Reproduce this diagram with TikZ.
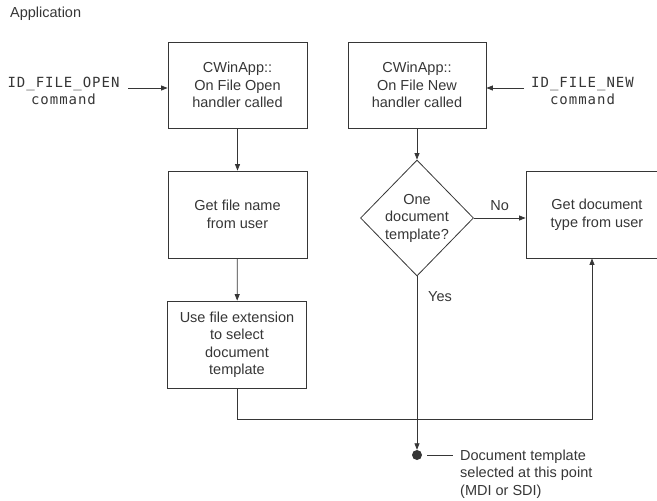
\documentclass[tikz,border=0pt]{standalone}
\usepackage{fontspec}
\setmainfont{Liberation Sans}
\newfontfamily\idfont[LetterSpace=7]{DejaVu Sans Mono}
\usetikzlibrary{arrows.meta,shapes.geometric}
\definecolor{ink}{HTML}{363636}
\begin{document}
\begin{tikzpicture}[x=1pt,y=-1pt,
  line/.style={draw=ink, line width=0.8pt},
  box/.style={line, rectangle, align=center, inner sep=0pt, text=ink,
    font=\fontsize{14.5}{17.5}\selectfont},
  label/.style={inner sep=0pt, text=ink, font=\fontsize{14.5}{17.5}\selectfont},
  cmd/.style={inner sep=0pt, align=center, text=ink, font=\idfont\fontsize{14}{17}\selectfont},
  flow/.style={line, -{Triangle[width=5pt,length=6.5pt]}}]
\useasboundingbox (0,0) rectangle (657,501);

\node[label, anchor=west] (app) at (10,14) {Application};

% left column: File Open path
\node[box, minimum width=139pt, minimum height=86pt] (open) at (237.5,85)
  {CWinApp::\\On File Open\\handler called};
\node[box, minimum width=139pt, minimum height=87pt] (getname) at (237.5,214.5)
  {Get file name\\from user};
\node[box, minimum width=139pt, minimum height=87pt] (ext) at (237,344.5)
  {Use file extension\\to select\\document\\template};

% middle column: File New path
\node[box, minimum width=138pt, minimum height=86pt] (new) at (417,85)
  {CWinApp::\\On File New\\handler called};
\node[line, diamond, inner sep=0pt, minimum width=113pt, minimum height=116pt,
  align=center, text=ink, font=\fontsize{14.5}{17.5}\selectfont] (one) at (417,218)
  {One\\document\\template?};
\node[box, minimum width=142pt, minimum height=87pt] (gettype) at (597,214.5)
  {Get document\\type from user};

% incoming commands
\node[cmd] (idopen) at (63.5,91) {ID\_FILE\_OPEN\\command};
\node[cmd] (idnew) at (582.5,91) {ID\_FILE\_NEW\\command};

% selection point
\node[circle, fill=ink, inner sep=0pt, minimum size=10pt] (dot) at (417,455) {};
\node[label, anchor=west, align=left] (note) at (460,474)
  {Document template\\selected at this point\\(MDI or SDI)};

\coordinate (opentail) at (128,88);
\coordinate (newtail) at (524,88);
\draw[flow] (opentail) -- (opentail -| open.west);
\draw[flow] (newtail) -- (newtail -| new.east);

\draw[flow] (open) -- (getname);
\draw[flow] (getname) -- (ext);
\draw[flow] (new) -- (one);
\draw[flow] (one.east) -- (one.east -| gettype.west)
  node[label, midway, above=7pt] (no) {No};
\draw[flow] (one.south) -- (dot.north);
\node[label] (yes) at (440,297) {Yes};

\coordinate (join) at (592,419);
\draw[flow] (ext.south) |- (join) -- (join |- gettype.south);

\coordinate (notetip) at (453,455);
\draw[line] (dot.east) ++(5,0) -- (notetip);
\end{tikzpicture}
\end{document}
